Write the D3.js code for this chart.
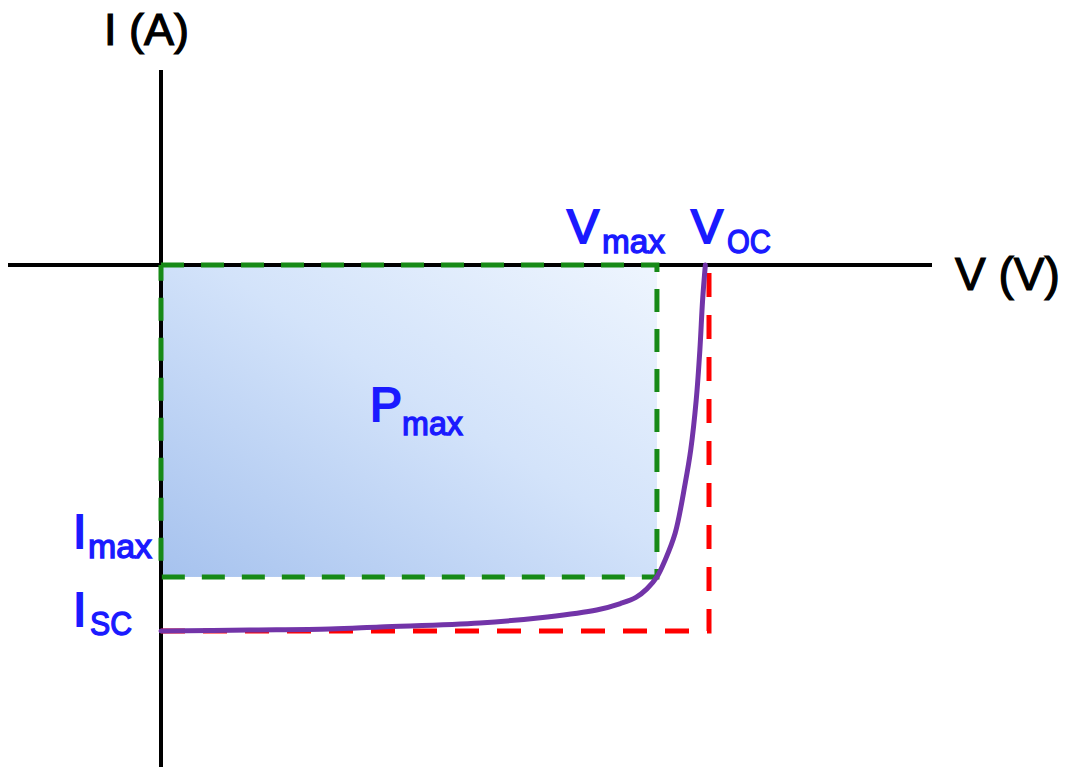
<!DOCTYPE html>
<html>
<head>
<meta charset="utf-8">
<script src="https://cdn.jsdelivr.net/npm/d3@7"></script>
<style>
  body { margin: 0; background: #fff; }
  text { font-family: "Liberation Sans", Arial, sans-serif; }
</style>
</head>
<body>
<svg id="chart" width="1073" height="767"></svg>
<script>
// I-V curve of a solar cell (voltage in V, current in A, current drawn negative)
var curveV = [0, 0.097, 0.185, 0.240, 0.349, 0.423, 0.477, 0.503, 0.520, 0.532,
              0.543, 0.552, 0.563, 0.574, 0.580, 0.586, 0.590, 0.593, 0.596];
var curveI = [-3.0, -2.992, -2.984, -2.967, -2.934, -2.885, -2.828, -2.775, -2.725, -2.655,
              -2.557, -2.418, -2.197, -1.787, -1.516, -1.107, -0.697, -0.287, 0];

var Voc = 0.6, Isc = -3.0, Vmax = 0.543, Imax = -2.557;

var axisLabels = ["I (A)", "V (V)"];
var pointLabels = [
  {main: "V", sub: "max"},
  {main: "V", sub: "OC"},
  {main: "I", sub: "max"},
  {main: "I", sub: "SC"},
  {main: "P", sub: "max"}
];

window.onload = function() {
  var svg = d3.select("#chart");

  // scales: origin of the diagram sits at (161, 265)
  var x = d3.scaleLinear().domain([0, Voc]).range([161, 709]),
      y = d3.scaleLinear().domain([0, Isc]).range([265, 631]);

  // gradient for the Pmax area
  var defs = svg.append("defs");
  var grad = defs.append("linearGradient")
      .attr("id", "pfill")
      .attr("x1", 0).attr("y1", 1).attr("x2", 1).attr("y2", 0);
  grad.append("stop").attr("offset", "0%").attr("stop-color", "#a6c2ee");
  grad.append("stop").attr("offset", "55%").attr("stop-color", "#d3e3fa");
  grad.append("stop").attr("offset", "100%").attr("stop-color", "#eef5fe");

  svg.append("rect")
      .attr("x", x(0)).attr("y", y(0))
      .attr("width", x(Vmax) - x(0))
      .attr("height", y(Imax) - y(0))
      .attr("fill", "url(#pfill)");

  // axes
  svg.append("line")
      .attr("x1", 8).attr("x2", 932)
      .attr("y1", y(0)).attr("y2", y(0))
      .attr("stroke", "#000").attr("stroke-width", 4);
  svg.append("line")
      .attr("x1", x(0)).attr("x2", x(0))
      .attr("y1", 70).attr("y2", 767)
      .attr("stroke", "#000").attr("stroke-width", 4);

  // Isc / Voc box
  svg.append("path")
      .attr("d", d3.line()([[x(0), y(Isc)], [x(Voc), y(Isc)], [x(Voc), y(0)]]))
      .attr("fill", "none")
      .attr("stroke", "#ff0000").attr("stroke-width", 5)
      .attr("stroke-dasharray", "24,18");

  // Pmax box
  svg.append("path")
      .attr("d", d3.line()([[x(0), y(0)], [x(Vmax), y(0)], [x(Vmax), y(Imax)],
                            [x(0), y(Imax)], [x(0), y(0)]]))
      .attr("fill", "none")
      .attr("stroke", "#178a17").attr("stroke-width", 5)
      .attr("stroke-dasharray", "23,17");

  // the I-V curve
  var pts = curveV.map(function(v, i) { return [v, curveI[i]]; });
  svg.append("path")
      .datum(pts)
      .attr("d", d3.line()
        .x(function(d) { return x(d[0]); })
        .y(function(d) { return y(d[1]); })
        .curve(d3.curveCatmullRom.alpha(0.5)))
      .attr("fill", "none")
      .attr("stroke", "#7234a8").attr("stroke-width", 5)
      .attr("stroke-linecap", "round");

  // axis titles
  svg.append("text").attr("x", 104).attr("y", 45)
      .attr("font-size", 45).attr("fill", "#000")
      .attr("stroke", "#000").attr("stroke-width", 1.2)
      .text(axisLabels[0]);
  svg.append("text").attr("x", 955).attr("y", 290)
      .attr("font-size", 46).attr("fill", "#000")
      .attr("stroke", "#000").attr("stroke-width", 1.2)
      .text(axisLabels[1]);

  // blue labels: main letter plus subscript
  var spots = [
    {x: 567, y: 243, sx: 602, sy: 253, sw: 63},
    {x: 691, y: 243, sx: 727, sy: 253, sw: 44},
    {x: 73, y: 548, sx: 88, sy: 558, sw: 64},
    {x: 73, y: 626, sx: 90, sy: 635, sw: 42},
    {x: 370, y: 421, sx: 402, sy: 435, sw: 61}
  ];
  var blue = "#1a1aff";
  pointLabels.forEach(function(l, i) {
    var s = spots[i];
    svg.append("text").attr("x", s.x).attr("y", s.y)
        .attr("font-size", 48)
        .attr("fill", blue).attr("stroke", blue).attr("stroke-width", 2)
        .text(l.main);
    svg.append("text").attr("x", s.sx).attr("y", s.sy)
        .attr("font-size", 34)
        .attr("fill", blue).attr("stroke", blue).attr("stroke-width", 1.4)
        .attr("textLength", s.sw).attr("lengthAdjust", "spacingAndGlyphs")
        .text(l.sub);
  });
};
</script>
</body>
</html>
